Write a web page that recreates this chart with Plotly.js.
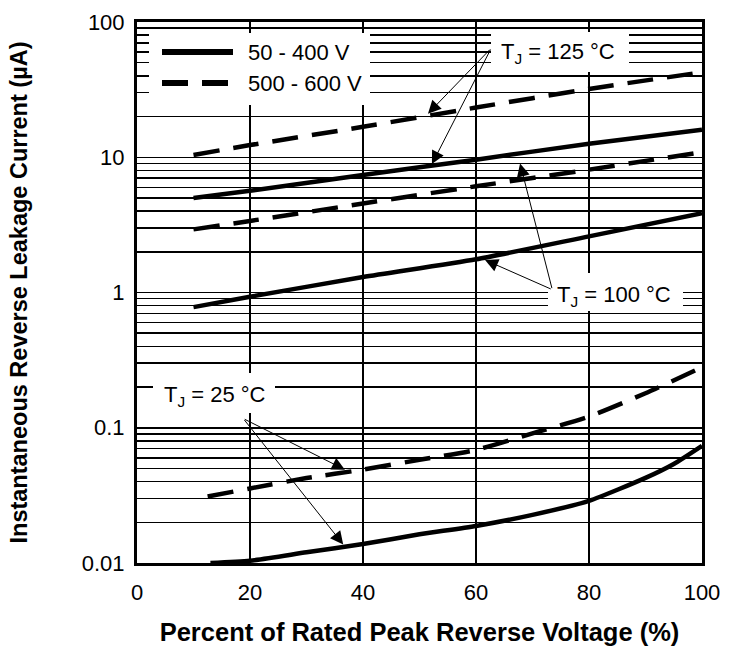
<!DOCTYPE html>
<html><head><meta charset="utf-8">
<script src="https://cdn.plot.ly/plotly-3.0.1.min.js"></script>
<style>html,body{margin:0;padding:0;background:#fff}</style>
</head><body>
<div id="chart" style="width:739px;height:646px"></div>
<script>
// ---- data ----
const pctHigh = [10, 20, 40, 60, 80, 100];
const solid125 = [5.0, 5.65, 7.4, 9.6, 12.6, 16.0];
const dash125  = [10.4, 12.3, 16.8, 23.3, 32, 42.5];
const solid100 = [0.78, 0.93, 1.3, 1.76, 2.6, 3.85];
const dash100  = [2.93, 3.38, 4.55, 6.1, 8.1, 10.9];
const pctDash25 = [12.5, 20, 30, 40, 50, 60, 70, 80, 90, 100];
const dash25    = [0.031, 0.0356, 0.0425, 0.049, 0.058, 0.0686, 0.091, 0.121, 0.18, 0.28];
const pctSolid25 = [13, 20, 30, 40, 50, 60, 70, 80, 90, 95, 100];
const solid25    = [0.0100, 0.0104, 0.0120, 0.0138, 0.0163, 0.0188, 0.0227, 0.0288, 0.0426, 0.054, 0.0736];
const seriesNames = ['50 - 400 V', '500 - 600 V'];
const xTicks = [0, 20, 40, 60, 80, 100];
const yDecades = [0.01, 0.1, 1, 10, 100];
const yDecadeLabels = ['0.01', '0.1', '1', '10', '100'];
const tempLabels = ['T<sub>J</sub> = 125 °C', 'T<sub>J</sub> = 100 °C', 'T<sub>J</sub> = 25 °C'];

// y tick values: every 1..9 multiple per decade (for the log grid)
const yTickVals = [], yTickText = [];
for (let d = -2; d < 2; d++) {
  for (let m = 1; m <= 9; m++) {
    const v = +(m * Math.pow(10, d)).toPrecision(3);
    yTickVals.push(v);
    const idx = yDecades.indexOf(v);
    yTickText.push(idx >= 0 ? yDecadeLabels[idx] : '');
  }
}
yTickVals.push(100); yTickText.push('100');

// pick a narrow face if one is installed
function hasFont(name) {
  const c = document.createElement('canvas').getContext('2d');
  const s = '0123456789 abcdefghijklmW';
  c.font = '40px monospace'; const a = c.measureText(s).width;
  c.font = '40px "' + name + '", monospace'; const b = c.measureText(s).width;
  return Math.abs(a - b) > 0.5;
}
const NARROW = hasFont('Liberation Sans Narrow');
const TXT = NARROW ? 'Liberation Sans Narrow, Liberation Sans, Arial, sans-serif' : 'Liberation Sans, Arial, sans-serif';
const TICK_SIZE = NARROW ? 25 : 22;
const TEXT_SIZE = NARROW ? 26 : 22;
const BOLD = 'Liberation Sans, Arial, sans-serif';

const SOLID = {color: '#000', width: 4.5, shape: 'spline', smoothing: 0.6};
const DASH = {color: '#000', width: 4.5, shape: 'spline', smoothing: 0.6, dash: '26px,14px'};

const traces = [
  {x: pctHigh, y: solid125, mode: 'lines', line: SOLID, name: seriesNames[0], showlegend: false},
  {x: pctHigh, y: dash125, mode: 'lines', line: DASH, name: seriesNames[1], showlegend: false},
  {x: pctHigh, y: solid100, mode: 'lines', line: SOLID, name: seriesNames[0], showlegend: false},
  {x: pctHigh, y: dash100, mode: 'lines', line: DASH, name: seriesNames[1], showlegend: false},
  {x: pctSolid25, y: solid25, mode: 'lines', line: SOLID, name: seriesNames[0], showlegend: false},
  {x: pctDash25, y: dash25, mode: 'lines', line: DASH, name: seriesNames[1], showlegend: false}
];

// pixel helpers for decoration placement (plot area 137..702 x, 22..563 y)
const L = 137, R = 702, T = 22, B = 563;
const px = p => (p - L) / (R - L);
const py = p => (B - p) / (B - T);

function whiteBox(x0, x1, y0, y1) {
  return {type: 'rect', xref: 'paper', yref: 'paper', x0: px(x0), x1: px(x1), y0: py(y1), y1: py(y0),
          fillcolor: '#fff', line: {width: 0}, layer: 'above'};
}
const shapes = [
  whiteBox(149, 370, 33, 105),
  whiteBox(491, 629, 32, 72),
  whiteBox(548, 683, 273, 311),
  whiteBox(153, 275, 373, 413),
  // legend samples
  {type: 'line', xref: 'paper', yref: 'paper', x0: px(162), x1: px(233), y0: py(52), y1: py(52),
   line: {color: '#000', width: 6}, layer: 'above'},
  {type: 'line', xref: 'paper', yref: 'paper', x0: px(162), x1: px(233), y0: py(83), y1: py(83),
   line: {color: '#000', width: 6, dash: '26px,14px'}, layer: 'above'}
];

const lg = v => Math.log10(v);
function arrow(tx, ty, sx, sy) {
  return {x: tx, y: lg(ty), ax: sx, ay: lg(sy), xref: 'x', yref: 'y', axref: 'x', ayref: 'y',
          text: '', showarrow: true, arrowhead: 2, arrowsize: 2.6, arrowwidth: 1, arrowcolor: '#000', standoff: 0};
}
function label(text, xp, yp, anchor) {
  return {xref: 'paper', yref: 'paper', x: px(xp), y: py(yp), xanchor: anchor, yanchor: 'middle', text: text,
          showarrow: false, font: {family: TXT, size: TEXT_SIZE, color: '#000'}};
}
const annotations = [
  label(seriesNames[0], 246, 52, 'left'),
  label(seriesNames[1], 246, 83, 'left'),
  label(tempLabels[0], 558, 53, 'center'),
  label(tempLabels[1], 614, 296, 'center'),
  label(tempLabels[2], 215, 396, 'center'),
  arrow(51.5, 21.0, 62.7, 64.1),
  arrow(52.2, 8.9, 62.7, 64.1),
  arrow(61.6, 1.74, 73.5, 1.05),
  arrow(67.8, 9.0, 73.5, 1.05),
  arrow(36.8, 0.049, 18.8, 0.117),
  arrow(36.5, 0.0137, 18.8, 0.117)
];

const layout = {
  width: 739, height: 646,
  margin: {l: L, r: 739 - R, t: T, b: 646 - B},
  paper_bgcolor: '#fff', plot_bgcolor: '#fff',
  showlegend: false,
  font: {family: TXT, size: TICK_SIZE, color: '#000'},
  xaxis: {
    range: [0, 100], tickvals: xTicks, ticktext: xTicks.map(String),
    showgrid: true, gridcolor: '#000', gridwidth: 1.5, zeroline: false,
    showline: true, linecolor: '#000', linewidth: 3, mirror: true,
    ticks: 'outside', ticklen: 8, tickcolor: 'rgba(0,0,0,0)',
    tickfont: {family: TXT, size: TICK_SIZE, color: '#000'},
    title: {text: 'Percent of Rated Peak Reverse Voltage (%)', font: {family: BOLD, size: 25.5, color: '#000', weight: 'bold'}, standoff: 19}
  },
  yaxis: {
    type: 'log', range: [-2, 2], tickvals: yTickVals, ticktext: yTickText,
    showgrid: true, gridcolor: '#000', gridwidth: 1.5, zeroline: false,
    showline: true, linecolor: '#000', linewidth: 3, mirror: true,
    ticks: 'outside', ticklen: 5, tickcolor: 'rgba(0,0,0,0)',
    tickfont: {family: TXT, size: TICK_SIZE, color: '#000'},
    title: {text: 'Instantaneous Reverse Leakage Current (µA)', font: {family: BOLD, size: 23.5, color: '#000', weight: 'bold'}, standoff: 48}
  },
  shapes: shapes,
  annotations: annotations
};

Plotly.newPlot('chart', traces, layout, {displayModeBar: false, staticPlot: true});
</script>
</body></html>
